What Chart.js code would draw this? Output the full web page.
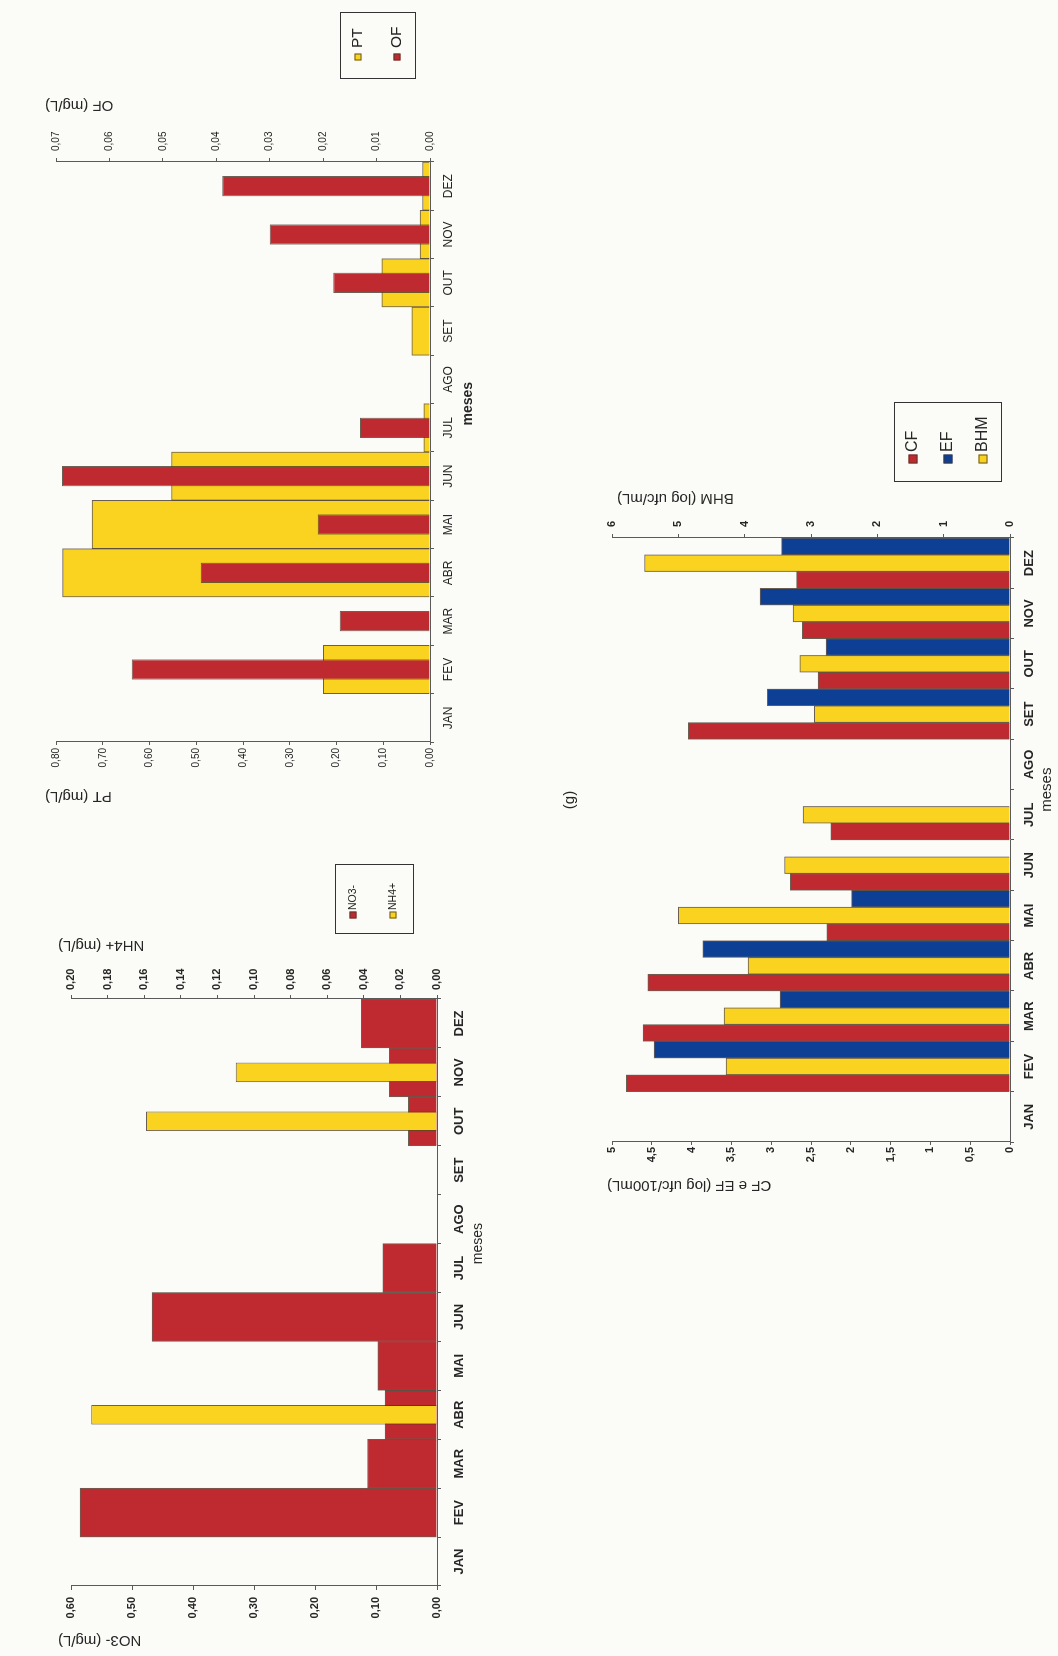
<!DOCTYPE html>
<html>
<head>
<meta charset="utf-8">
<script src="https://cdn.jsdelivr.net/npm/chart.js@4.4.1/dist/chart.umd.min.js"></script>
<style>
  html, body { margin: 0; padding: 0; background: #fbfbf7; overflow: hidden; }
  body { width: 1058px; height: 1656px; position: relative; }
  /* the scanned page is turned a quarter left, so draw it upright and rotate */
  #page { position: absolute; left: 0; top: 0; width: 1656px; height: 1058px;
          transform-origin: 0 0; transform: translate(0, 1656px) rotate(-90deg); }
  #page canvas { position: absolute; }
</style>
</head>
<body>
<div id="page">
  <canvas id="chartE" width="820" height="500" style="left:0;top:0"></canvas>
  <canvas id="chartF" width="826" height="500" style="left:830px;top:0"></canvas>
  <canvas id="chartG" width="900" height="518" style="left:420px;top:540px"></canvas>
</div>
<script>
// dados
const months = ['JAN', 'FEV', 'MAR', 'ABR', 'MAI', 'JUN', 'JUL', 'AGO', 'SET', 'OUT', 'NOV', 'DEZ'];

// (e) nitrato e amônio
const no3 = [null, 0.585, 0.114, 0.085, 0.097, 0.467, 0.089, null, null, 0.047, 0.078, 0.124];
const nh4 = [null, null, null, 0.189, null, null, null, null, null, 0.159, 0.110, null];
const no3Ticks = ['0,00', '0,10', '0,20', '0,30', '0,40', '0,50', '0,60'];
const nh4Ticks = ['0,00', '0,02', '0,04', '0,06', '0,08', '0,10', '0,12', '0,14', '0,16', '0,18', '0,20'];

// (f) fósforo total e ortofosfato
const pt = [null, 0.228, null, 0.786, 0.723, 0.553, 0.013, null, 0.039, 0.103, 0.021, 0.016];
const ofos = [null, 0.0558, 0.0169, 0.0429, 0.021, 0.0689, 0.0131, null, null, 0.0181, 0.030, 0.0389];
const ptTicks = ['0,00', '0,10', '0,20', '0,30', '0,40', '0,50', '0,60', '0,70', '0,80'];
const ofTicks = ['0,00', '0,01', '0,02', '0,03', '0,04', '0,05', '0,06', '0,07'];

// (g) coliformes, enterococos e heterotróficas
const cf = [null, 4.82, 4.61, 4.55, 2.30, 2.76, 2.25, null, 4.04, 2.41, 2.61, 2.68];
const ef = [null, 4.47, 2.89, 3.86, 1.99, null, null, null, 3.05, 2.31, 3.14, 2.87];
const bhm = [null, 4.28, 4.31, 3.95, 5.00, 3.40, 3.12, null, 2.95, 3.17, 3.27, 5.51];
const cfTicks = ['0', '0,5', '1', '1,5', '2', '2,5', '3', '3,5', '4', '4,5', '5'];
const bhmTicks = ['0', '1', '2', '3', '4', '5', '6'];

const RED = '#bf2a30';
const YEL = '#f9d31f';
const BLUE = '#0d3f95';
const EDGE = 'rgba(70,55,40,0.8)';
const AXIS = '#5a5a5a';
const TEXT = '#262626';
const FAM = "'Liberation Sans', Arial, sans-serif";
const FAM_N = "'Liberation Sans Narrow', 'Arial Narrow', 'Liberation Sans', Arial, sans-serif";

// títulos de eixo, legenda em caixa e rótulo "meses"
const extras = {
  id: 'extras',
  afterDraw(chart, args, o) {
    const ctx = chart.ctx;
    ctx.save();
    ctx.fillStyle = TEXT;
    (o.titles || []).forEach(t => {
      ctx.save();
      ctx.font = t.font;
      ctx.translate(t.x, t.top);
      ctx.rotate(-Math.PI / 2);
      ctx.textAlign = 'right';
      ctx.textBaseline = 'middle';
      ctx.fillText(t.text, 0, 0);
      ctx.restore();
    });
    if (o.xTitle) {
      ctx.font = o.xTitle.font;
      ctx.textAlign = 'center';
      ctx.textBaseline = 'middle';
      ctx.fillText(o.xTitle.text, chart.scales.x.getPixelForValue(o.xTitle.at), o.xTitle.y);
    }
    (o.labels || []).forEach(l => {
      ctx.font = l.font;
      ctx.textAlign = 'center';
      ctx.textBaseline = 'middle';
      ctx.fillText(l.text, l.x, l.y);
    });
    const L = o.legend;
    if (L) {
      ctx.strokeStyle = '#333';
      ctx.lineWidth = 1;
      ctx.strokeRect(L.x + 0.5, L.y + 0.5, L.w, L.h);
      L.order.forEach((di, k) => {
        const ds = chart.data.datasets[di];
        const cy = L.y + L.rows[k];
        const s = L.swatch;
        ctx.fillStyle = ds.backgroundColor;
        ctx.fillRect(L.x + L.swatchX - s / 2, cy - s / 2, s, s);
        ctx.strokeStyle = EDGE;
        ctx.strokeRect(L.x + L.swatchX - s / 2 + 0.5, cy - s / 2 + 0.5, s - 1, s - 1);
        ctx.fillStyle = TEXT;
        ctx.font = L.font;
        ctx.textAlign = 'left';
        ctx.textBaseline = 'middle';
        ctx.fillText(ds.label, L.x + L.textX, cy);
      });
    }
    ctx.restore();
  }
};

function monthAxis(height, font, pad) {
  return {
    type: 'category', position: 'bottom', offset: true,
    afterFit: s => { s.height = height; },
    border: { color: AXIS, width: 1 },
    grid: { offset: true, drawOnChartArea: false, tickLength: 4, color: AXIS },
    ticks: { autoSkip: false, maxRotation: 0, padding: pad, color: TEXT, font: font }
  };
}

function valueAxis(position, max, step, labels, width, font, tickLen, pad) {
  return {
    type: 'linear', position: position, min: 0, max: max,
    afterFit: s => { s.width = width; },
    border: { color: AXIS, width: 1 },
    grid: { drawOnChartArea: false, tickLength: tickLen, color: AXIS },
    ticks: { stepSize: step, autoSkip: false, padding: pad, color: TEXT, font: font,
             callback: (v, i) => labels[i] }
  };
}

function bar(label, data, axis, color, width, order) {
  return {
    label: label, data: data, yAxisID: axis, backgroundColor: color,
    borderColor: EDGE, borderWidth: 1, borderSkipped: 'start',
    barPercentage: width, categoryPercentage: 1, order: order
  };
}

const baseOpts = {
  responsive: false,
  animation: false,
  events: []
};

// (e)
const tickE = { family: FAM, size: 11, weight: 'bold' };
new Chart(document.getElementById('chartE'), {
  type: 'bar',
  data: {
    labels: months,
    datasets: [
      Object.assign(bar('NO3-', no3, 'y', RED, 1, 2), { grouped: false }),
      Object.assign(bar('NH4+', nh4, 'y1', YEL, 0.4, 1), { grouped: false })
    ]
  },
  options: Object.assign({}, baseOpts, {
    layout: { padding: { top: 71, left: 0, right: 0, bottom: 0 } },
    scales: {
      x: monthAxis(63, { family: FAM_N, size: 13, weight: 'bold' }, 11),
      y: valueAxis('left', 0.6, 0.1, no3Ticks, 70, tickE, 4, 7),
      y1: valueAxis('right', 0.2, 0.02, nh4Ticks, 163, tickE, 4, 5)
    },
    plugins: {
      legend: { display: false },
      tooltip: { enabled: false },
      extras: {
        titles: [
          { text: 'NO3- (mg/L)', x: 16, top: 58, font: '15px ' + FAM },
          { text: 'NH4+ (mg/L)', x: 711, top: 58, font: '15px ' + FAM }
        ],
        xTitle: { text: 'meses', at: 6.5, y: 478, font: '14px ' + FAM },
        legend: { x: 722, y: 335, w: 69, h: 78, order: [0, 1], rows: [18, 58],
                  swatch: 7, swatchX: 19, textX: 24, font: '10.5px ' + FAM }
      }
    }
  }),
  plugins: [extras]
});

// (f)
const tickF = { family: FAM, size: 10 };
new Chart(document.getElementById('chartF'), {
  type: 'bar',
  data: {
    labels: months,
    datasets: [
      Object.assign(bar('PT', pt, 'y', YEL, 1, 2), { grouped: false }),
      Object.assign(bar('OF', ofos, 'y1', RED, 0.42, 1), { grouped: false })
    ]
  },
  options: Object.assign({}, baseOpts, {
    layout: { padding: { top: 56, left: 0, right: 0, bottom: 0 } },
    scales: {
      x: monthAxis(70, { family: FAM_N, size: 12 }, 7),
      y: valueAxis('left', 0.8, 0.1, ptTicks, 84, tickF, 3, 3),
      y1: valueAxis('right', 0.07, 0.01, ofTicks, 162, tickF, 4, 7)
    },
    plugins: {
      legend: { display: false },
      tooltip: { enabled: false },
      extras: {
        titles: [
          { text: 'PT (mg/L)', x: 30, top: 45, font: '15px ' + FAM },
          { text: 'OF (mg/L)', x: 721, top: 45, font: '15px ' + FAM }
        ],
        xTitle: { text: 'meses', at: 6.5, y: 468, font: 'bold 14px ' + FAM },
        legend: { x: 747, y: 340, w: 66, h: 75, order: [0, 1], rows: [18, 57],
                  swatch: 7, swatchX: 22, textX: 31, font: '15.5px ' + FAM }
      }
    }
  }),
  plugins: [extras]
});

// (g)
const tickG = { family: FAM, size: 11, weight: 'bold' };
new Chart(document.getElementById('chartG'), {
  type: 'bar',
  data: {
    labels: months,
    datasets: [
      bar('CF', cf, 'y', RED, 1, 0),
      bar('BHM', bhm, 'y1', YEL, 1, 0),
      bar('EF', ef, 'y', BLUE, 1, 0)
    ]
  },
  options: Object.assign({}, baseOpts, {
    layout: { padding: { top: 72, left: 0, right: 0, bottom: 0 } },
    scales: {
      x: monthAxis(48, { family: FAM_N, size: 13, weight: 'bold' }, 8),
      y: valueAxis('left', 5, 0.5, cfTicks, 94, tickG, 3, 2),
      y1: valueAxis('right', 6, 1, bhmTicks, 202, tickG, 4, 7)
    },
    plugins: {
      legend: { display: false },
      tooltip: { enabled: false },
      extras: {
        titles: [
          { text: 'CF e EF (log ufc/100mL)', x: 51, top: 67, font: '15px ' + FAM },
          { text: 'BHM (log ufc/mL)', x: 738, top: 77, font: '15px ' + FAM }
        ],
        xTitle: { text: 'meses', at: 6.5, y: 507, font: '15px ' + FAM },
        labels: [{ text: '(g)', x: 436, y: 30, font: '15px ' + FAM }],
        legend: { x: 754, y: 354, w: 79, h: 107, order: [0, 2, 1], rows: [19, 54, 89],
                  swatch: 9, swatchX: 23, textX: 30, font: '16px ' + FAM }
      }
    }
  }),
  plugins: [extras]
});
</script>
</body>
</html>
